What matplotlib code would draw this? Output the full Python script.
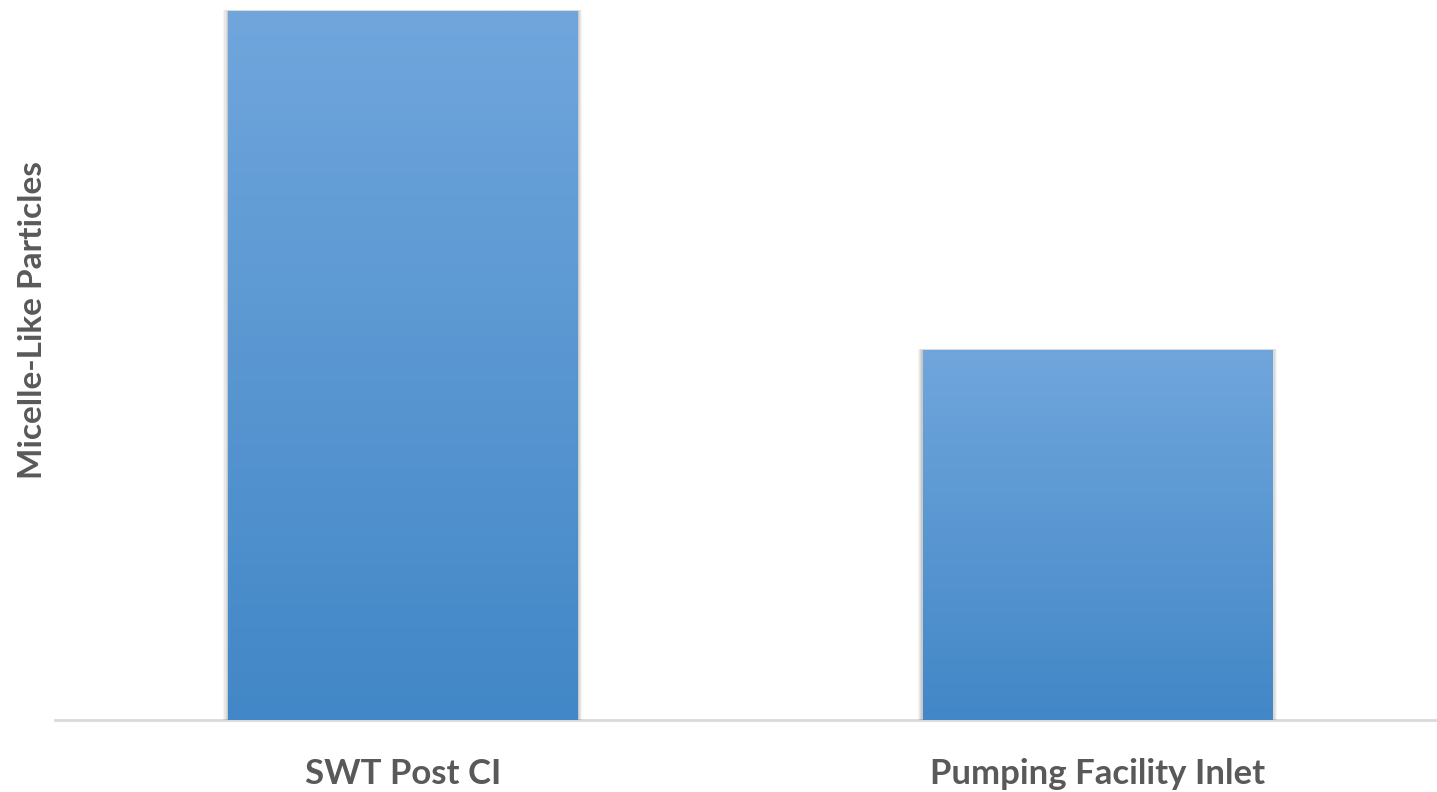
import matplotlib
matplotlib.use("Agg")
import matplotlib.pyplot as plt
import numpy as np
from matplotlib.patches import Rectangle
from matplotlib.colors import LinearSegmentedColormap

categories = ["SWT Post CI", "Pumping Facility Inlet"]
values = [100.0, 52.2]
y_label = "Micelle-Like Particles"

W, H, DPI = 1437, 792, 100
fig = plt.figure(figsize=(W / DPI, H / DPI), dpi=DPI)
ax = fig.add_axes([55 / W, (H - 720) / H, (W - 55) / W, 720 / H])

text_color = "#595959"
font = dict(family=["Lato", "DejaVu Sans"], weight="bold", color=text_color)

bar_width = 0.503
top_col, bot_col = "#70a6dc", "#4287c7"
cmap = LinearSegmentedColormap.from_list("barfade", [bot_col, top_col])

x = np.arange(len(categories))
bars = ax.bar(x, values, width=bar_width, color="none", edgecolor="none", zorder=3)

# soft drop shadow along the sides and base of each bar
for b in bars:
    x0, w, h = b.get_x(), b.get_width(), b.get_height()
    for i, a in enumerate([0.04, 0.05, 0.06, 0.08]):
        pad = 0.007 - i * 0.0017
        ax.add_patch(Rectangle((x0 - pad, -0.3 - pad * 40), w + 2 * pad, h + 0.3 + pad * 40 + pad * 20,
                               facecolor="black", alpha=a, edgecolor="none", zorder=2))

# vertical gradient fill clipped to each bar
grad = np.linspace(0, 1, 256).reshape(-1, 1)
for b in bars:
    x0, w, h = b.get_x(), b.get_width(), b.get_height()
    im = ax.imshow(grad, cmap=cmap, origin="lower", aspect="auto",
                   extent=(x0, x0 + w, 0, h), zorder=3, interpolation="bilinear")
    clip = Rectangle((x0, 0), w, h, transform=ax.transData)
    im.set_clip_path(clip)

ax.set_xlim(-0.5007, 1.489)
ax.set_ylim(0, values[0] * 720 / 709)

for s in ["top", "right", "left"]:
    ax.spines[s].set_visible(False)
ax.spines["bottom"].set_color("#d9d9d9")
ax.spines["bottom"].set_linewidth(2)
ax.spines["bottom"].set_zorder(1)

ax.set_yticks([])
ax.set_xticks(x)
ax.set_xticklabels(categories, fontsize=25, **font)
ax.tick_params(axis="x", length=0, pad=27)

fig.text(33 / W, 1 - 320 / H, y_label, rotation=90, ha="center", va="center",
         fontsize=24, **font)

fig.savefig("out.png", dpi=DPI, facecolor="white")
